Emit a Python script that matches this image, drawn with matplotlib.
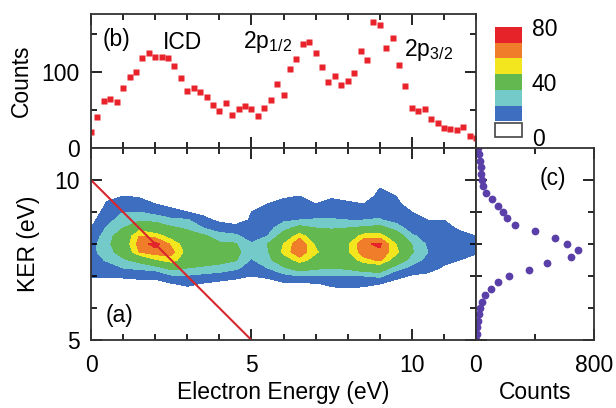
import numpy as np
import matplotlib
matplotlib.use("Agg")
import matplotlib.pyplot as plt
from matplotlib.patches import Rectangle

plt.rcParams['font.family'] = ['Liberation Sans', 'DejaVu Sans']
plt.rcParams['mathtext.fontset'] = 'custom'
plt.rcParams['mathtext.rm'] = 'Liberation Sans'

# (b) electron energy spectrum, 0.2 eV bins
elec_energy = np.round(np.arange(0, 12.01, 0.2), 1)
elec_counts = [21, 41, 62, 65, 61, 79, 93, 100, 118, 125,
               119, 119, 118, 108, 92, 75, 79, 74, 67, 57,
               48, 59, 44, 51, 55, 51, 42, 53, 63, 84,
               70, 104, 117, 136, 139, 125, 106, 87, 94, 83,
               88, 98, 127, 116, 166, 162, 131, 144, 109, 82,
               53, 48, 51, 38, 33, 26, 25, 24, 27, 16, 13]

# (c) KER spectrum, 0.2 eV bins
ker_bins = np.round(np.arange(5, 11.01, 0.2), 1)
ker_counts = [0, 5, 9, 16, 20, 27, 39, 61, 100, 151,
              226, 362, 484, 642, 694, 615, 536, 400, 264, 212,
              185, 151, 106, 68, 50, 41, 34, 32, 27, 22, 16]

# (a) 2D map: columns of electron energy, rows of KER
map_energy = np.arange(0, 12.01, 0.5)
map_ker = np.arange(6.25, 10.01, 0.25)
map_columns = [
    [0, 2, 6, 11, 14, 16, 17, 16, 13, 10, 7, 4, 2, 0, 0, 0],
    [0, 3, 7, 11, 16, 21, 25, 27, 25, 21, 17, 14, 11, 8, 3, 0],
    [0, 3, 7, 11, 20, 28, 36, 40, 38, 30, 24, 20, 15, 10, 5, 0],
    [0, 3, 7, 12, 22, 34, 60, 64, 60, 45, 27, 20, 14, 9, 4, 0],
    [0, 3, 7, 12, 24, 48, 66, 74, 56, 38, 27, 16, 10, 5, 0, 0],
    [0, 4, 9, 18, 34, 56, 64, 58, 44, 32, 22, 13, 7, 3, 0, 0],
    [0, 5, 12, 19, 30, 40, 45, 42, 36, 28, 21, 10, 5, 0, 0, 0],
    [0, 3, 9, 17, 28, 36, 40, 38, 32, 20, 13, 7, 3, 0, 0, 0],
    [0, 2, 7, 15, 26, 34, 38, 32, 24, 15, 8, 3, 0, 0, 0, 0],
    [0, 1, 5, 13, 22, 31, 34, 31, 22, 13, 6, 2, 0, 0, 0, 0],
    [0, 0, 3, 10, 15, 19, 22, 21, 15, 12, 11, 10, 5, 0, 0, 0],
    [0, 1, 5, 12, 20, 26, 28, 30, 20, 16, 13, 12, 10, 5, 0, 0],
    [0, 3, 8, 17, 28, 40, 54, 50, 36, 26, 18, 14, 12, 9, 3, 0],
    [0, 3, 8, 20, 36, 56, 67, 68, 57, 34, 20, 14, 12, 10, 4, 0],
    [0, 3, 9, 19, 32, 44, 52, 48, 38, 30, 21, 14, 10, 6, 0, 0],
    [0, 6, 12, 20, 30, 36, 40, 40, 36, 29, 21, 15, 12, 9, 3, 0],
    [0, 7, 13, 20, 32, 40, 48, 48, 38, 30, 20, 14, 11, 8, 2, 0],
    [0, 6, 12, 20, 38, 56, 66, 68, 56, 32, 20, 13, 10, 6, 0, 0],
    [0, 4, 10, 22, 40, 62, 68, 72, 56, 34, 21, 16, 14, 12, 10, 3],
    [0, 1, 6, 13, 24, 42, 54, 50, 38, 26, 16, 13, 12, 10, 6, 0],
    [0, 0, 3, 9, 17, 25, 31, 30, 22, 14, 11, 10, 6, 0, 0, 0],
    [0, 0, 2, 8, 13, 17, 20, 18, 15, 12, 10, 6, 2, 0, 0, 0],
    [0, 0, 0, 5, 9, 12, 15, 16, 14, 12, 10, 5, 0, 0, 0, 0],
    [0, 0, 0, 2, 6, 10, 13, 14, 12, 9, 5, 0, 0, 0, 0, 0],
    [0, 0, 0, 0, 3, 7, 11, 12, 10, 5, 0, 0, 0, 0, 0, 0],
]
map_values = np.array(map_columns).T

levels = [0, 10, 20, 30, 50, 60, 70, 80]
level_colors = ['white', '#3d6ebf', '#74c9c9', '#63b94f', '#f4e61e', '#ef7d2a', '#e62328']

# energy conservation line KER + E = 10 eV
line_energy = [0, 5]
line_ker = [10, 5]

FS = 16.5
red = '#e8232b'
purple = '#5b3fa8'

fig = plt.figure(figsize=(6.16, 4.08), dpi=100)
W, H = 616, 408


def px_axes(l, t, r, b):
    return fig.add_axes([l / W, 1 - b / H, (r - l) / W, (b - t) / H])


ax_b = px_axes(91, 14, 476, 148)
ax_a = px_axes(91, 148, 476, 340)
ax_c = px_axes(476, 148, 594, 340)
cax = px_axes(495, 27, 522, 137)

for ax in (ax_a, ax_b, ax_c):
    ax.tick_params(which='both', direction='in', top=True, right=True,
                   labelsize=FS, width=1.2, pad=8)
    ax.tick_params(axis='x', pad=10)
    ax.tick_params(which='major', length=8)
    ax.tick_params(which='minor', length=4.5)
    for s in ax.spines.values():
        s.set_linewidth(1.3)
        s.set_color('#333333')

# (b)
ax_b.plot(elec_energy, elec_counts, 's', color=red, ms=4.8, mec='none')
ax_b.set_xlim(0, 12)
ax_b.set_ylim(0, 176)
ax_b.set_xticks([0, 5, 10])
ax_b.set_xticks(np.arange(0, 13, 1), minor=True)
ax_b.set_yticks([0, 100])
ax_b.set_yticks([50, 150], minor=True)
ax_b.tick_params(labelbottom=False)
ax_b.set_ylabel('Counts', fontsize=FS, labelpad=6)
ax_b.text(0.35, 142, '(b)', fontsize=FS, va='center')
ax_b.text(2.25, 139, 'ICD', fontsize=FS, va='center')
ax_b.text(4.75, 139, r'2p$_\mathregular{1/2}$', fontsize=FS, va='center')
ax_b.text(9.75, 129, r'2p$_\mathregular{3/2}$', fontsize=FS, va='center')

# (a)
cf = ax_a.contourf(map_energy, map_ker, map_values, levels=levels, colors=level_colors)
ax_a.plot(line_energy, line_ker, color='#d8262c', lw=1.5)
ax_a.set_xlim(0, 12)
ax_a.set_ylim(5, 11)
ax_a.set_xticks([0, 5, 10])
ax_a.set_xticks(np.arange(0, 13, 1), minor=True)
ax_a.set_yticks([5, 10])
ax_a.set_yticks([6, 7, 8, 9], minor=True)
ax_a.set_xlabel('Electron Energy (eV)', fontsize=FS, labelpad=3)
ax_a.set_ylabel('KER (eV)', fontsize=FS, labelpad=10)
ax_a.text(0.45, 5.78, '(a)', fontsize=FS, va='center')

# (c)
ax_c.plot(ker_counts, ker_bins, 'o', color=purple, ms=5.6, mec='none')
ax_c.set_xlim(0, 800)
ax_c.set_ylim(5, 11)
ax_c.set_xticks([0, 800])
ax_c.set_xticks([400], minor=True)
ax_c.set_yticks([5, 10])
ax_c.set_yticks([6, 7, 8, 9], minor=True)
ax_c.tick_params(labelleft=False)
ax_c.set_xlabel('Counts', fontsize=FS, labelpad=3)
ax_c.text(434, 10.06, '(c)', fontsize=FS, va='center')

# colorbar
cbar = fig.colorbar(cf, cax=cax, ticks=[0, 40, 80])
cbar.outline.set_visible(False)
cbar.ax.tick_params(length=0, labelsize=FS, pad=7)
cax.add_patch(Rectangle((0, 0), 1, 0.125, transform=cax.transAxes,
                        fill=False, ec='#444444', lw=1.2, clip_on=False))

fig.savefig('out.png', dpi=100)
